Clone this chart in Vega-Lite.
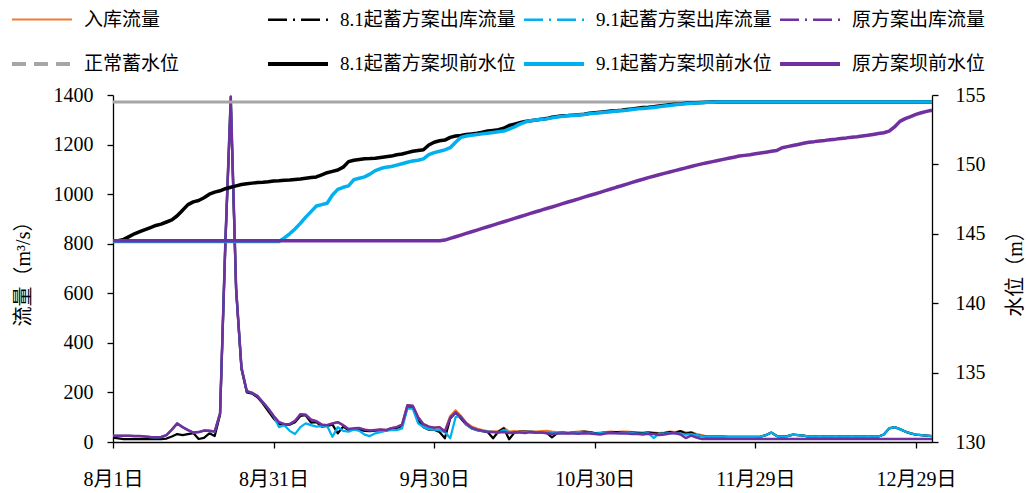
{
"$schema": "https://vega.github.io/schema/vega-lite/v6.json",
"width": 819, "height": 347,
"autosize": {"type": "none"},
"padding": {"left": 113, "top": 95, "right": 94, "bottom": 51},
"background": "white",
"config": {
  "view": {"stroke": null},
  "font": "Liberation Serif, Noto Sans CJK SC",
  "axis": {"grid": false, "domainColor": "#000", "tickColor": "#000", "labelColor": "#000", "titleColor": "#000",
           "labelFont": "Liberation Serif, Noto Sans CJK SC", "titleFont": "Liberation Serif, Noto Sans CJK SC",
           "labelFontSize": 20, "titleFontSize": 20, "titleFontWeight": "normal", "tickSize": 6,
           "domainWidth": 1.3, "tickWidth": 1.3, "labelFlush": false, "labelOverlap": false}
},
"data": {"values": [
{"d":"2021-08-01","I":25,"B":18,"C":25,"P":25,"LB":144.5,"LC":144.45,"LP":144.5,"N":154.5},
{"d":"2021-08-02","I":25,"B":15,"C":25,"P":25,"LB":144.5,"LC":144.45,"LP":144.5},
{"d":"2021-08-03","I":25,"B":12,"C":25,"P":25,"LB":144.6,"LC":144.45,"LP":144.5},
{"d":"2021-08-04","I":25,"B":12,"C":25,"P":25,"LB":144.8,"LC":144.45,"LP":144.5},
{"d":"2021-08-05","I":24,"B":12,"C":24,"P":24,"LB":145.0,"LC":144.45,"LP":144.5},
{"d":"2021-08-06","I":24,"B":12,"C":24,"P":24,"LB":145.15,"LC":144.45,"LP":144.5},
{"d":"2021-08-07","I":22,"B":12,"C":22,"P":22,"LB":145.3,"LC":144.45,"LP":144.5},
{"d":"2021-08-08","I":20,"B":12,"C":20,"P":20,"LB":145.45,"LC":144.45,"LP":144.5},
{"d":"2021-08-09","I":19,"B":12,"C":19,"P":19,"LB":145.6,"LC":144.45,"LP":144.5},
{"d":"2021-08-10","I":20,"B":12,"C":20,"P":20,"LB":145.7,"LC":144.45,"LP":144.5},
{"d":"2021-08-11","I":28,"B":14,"C":28,"P":28,"LB":145.85,"LC":144.45,"LP":144.5},
{"d":"2021-08-12","I":50,"B":22,"C":50,"P":50,"LB":146.0,"LC":144.45,"LP":144.5},
{"d":"2021-08-13","I":75,"B":32,"C":75,"P":75,"LB":146.3,"LC":144.45,"LP":144.5},
{"d":"2021-08-14","I":60,"B":28,"C":60,"P":60,"LB":146.7,"LC":144.45,"LP":144.5},
{"d":"2021-08-15","I":48,"B":32,"C":48,"P":48,"LB":147.1,"LC":144.45,"LP":144.5},
{"d":"2021-08-16","I":38,"B":36,"C":38,"P":38,"LB":147.3,"LC":144.45,"LP":144.5},
{"d":"2021-08-17","I":40,"B":12,"C":40,"P":40,"LB":147.4,"LC":144.45,"LP":144.5},
{"d":"2021-08-18","I":46,"B":17,"C":46,"P":46,"LB":147.6,"LC":144.45,"LP":144.5},
{"d":"2021-08-19","I":45,"B":35,"C":45,"P":45,"LB":147.85,"LC":144.45,"LP":144.5},
{"d":"2021-08-20","I":42,"B":24,"C":42,"P":42,"LB":148.0,"LC":144.45,"LP":144.5},
{"d":"2021-08-21","I":116,"B":110,"C":116,"P":116,"LB":148.1,"LC":144.45,"LP":144.5},
{"d":"2021-08-22","I":815,"B":800,"C":815,"P":815,"LB":148.25,"LC":144.45,"LP":144.5},
{"d":"2021-08-23","I":1393,"B":1370,"C":1393,"P":1393,"LB":148.35,"LC":144.45,"LP":144.5},
{"d":"2021-08-24","I":620,"B":610,"C":620,"P":620,"LB":148.45,"LC":144.45,"LP":144.5},
{"d":"2021-08-25","I":300,"B":295,"C":300,"P":300,"LB":148.55,"LC":144.45,"LP":144.5},
{"d":"2021-08-26","I":205,"B":200,"C":205,"P":205,"LB":148.6,"LC":144.45,"LP":144.5},
{"d":"2021-08-27","I":198,"B":195,"C":198,"P":198,"LB":148.65,"LC":144.45,"LP":144.5},
{"d":"2021-08-28","I":185,"B":180,"C":185,"P":185,"LB":148.7,"LC":144.45,"LP":144.5},
{"d":"2021-08-29","I":160,"B":155,"C":160,"P":160,"LB":148.72,"LC":144.45,"LP":144.5},
{"d":"2021-08-30","I":135,"B":125,"C":135,"P":135,"LB":148.75,"LC":144.45,"LP":144.5},
{"d":"2021-08-31","I":105,"B":95,"C":105,"P":105,"LB":148.8,"LC":144.45,"LP":144.5},
{"d":"2021-09-01","I":80,"B":72,"C":60,"P":80,"LB":148.82,"LC":144.45,"LP":144.5},
{"d":"2021-09-02","I":72,"B":70,"C":68,"P":72,"LB":148.85,"LC":144.7,"LP":144.5},
{"d":"2021-09-03","I":72,"B":70,"C":45,"P":72,"LB":148.88,"LC":145.0,"LP":144.5},
{"d":"2021-09-04","I":85,"B":80,"C":32,"P":85,"LB":148.92,"LC":145.35,"LP":144.5},
{"d":"2021-09-05","I":112,"B":105,"C":60,"P":112,"LB":148.95,"LC":145.75,"LP":144.5},
{"d":"2021-09-06","I":110,"B":108,"C":75,"P":110,"LB":149.0,"LC":146.2,"LP":144.5},
{"d":"2021-09-07","I":90,"B":78,"C":68,"P":90,"LB":149.05,"LC":146.6,"LP":144.5},
{"d":"2021-09-08","I":84,"B":80,"C":62,"P":84,"LB":149.1,"LC":147.0,"LP":144.5},
{"d":"2021-09-09","I":70,"B":62,"C":64,"P":70,"LB":149.25,"LC":147.1,"LP":144.5},
{"d":"2021-09-10","I":68,"B":65,"C":65,"P":68,"LB":149.4,"LC":147.2,"LP":144.5},
{"d":"2021-09-11","I":75,"B":70,"C":21,"P":75,"LB":149.5,"LC":147.8,"LP":144.5},
{"d":"2021-09-12","I":80,"B":35,"C":60,"P":80,"LB":149.6,"LC":148.2,"LP":144.5},
{"d":"2021-09-13","I":68,"B":62,"C":45,"P":68,"LB":149.8,"LC":148.35,"LP":144.5},
{"d":"2021-09-14","I":52,"B":48,"C":42,"P":52,"LB":150.2,"LC":148.45,"LP":144.5},
{"d":"2021-09-15","I":55,"B":52,"C":51,"P":55,"LB":150.3,"LC":148.9,"LP":144.5},
{"d":"2021-09-16","I":56,"B":50,"C":45,"P":56,"LB":150.35,"LC":149.0,"LP":144.5},
{"d":"2021-09-17","I":50,"B":45,"C":30,"P":50,"LB":150.4,"LC":149.1,"LP":144.5},
{"d":"2021-09-18","I":46,"B":44,"C":24,"P":46,"LB":150.42,"LC":149.3,"LP":144.5},
{"d":"2021-09-19","I":48,"B":46,"C":35,"P":48,"LB":150.45,"LC":149.55,"LP":144.5},
{"d":"2021-09-20","I":50,"B":48,"C":40,"P":50,"LB":150.5,"LC":149.7,"LP":144.5},
{"d":"2021-09-21","I":48,"B":46,"C":46,"P":48,"LB":150.55,"LC":149.8,"LP":144.5},
{"d":"2021-09-22","I":56,"B":52,"C":48,"P":56,"LB":150.6,"LC":149.85,"LP":144.5},
{"d":"2021-09-23","I":60,"B":56,"C":48,"P":60,"LB":150.7,"LC":149.95,"LP":144.5},
{"d":"2021-09-24","I":70,"B":65,"C":55,"P":70,"LB":150.75,"LC":150.05,"LP":144.5},
{"d":"2021-09-25","I":148,"B":140,"C":136,"P":148,"LB":150.85,"LC":150.15,"LP":144.5},
{"d":"2021-09-26","I":146,"B":140,"C":135,"P":146,"LB":150.95,"LC":150.25,"LP":144.5},
{"d":"2021-09-27","I":100,"B":85,"C":75,"P":100,"LB":151.0,"LC":150.3,"LP":144.5},
{"d":"2021-09-28","I":72,"B":60,"C":60,"P":72,"LB":151.05,"LC":150.4,"LP":144.5},
{"d":"2021-09-29","I":62,"B":50,"C":52,"P":62,"LB":151.4,"LC":150.7,"LP":144.5},
{"d":"2021-09-30","I":58,"B":50,"C":50,"P":58,"LB":151.6,"LC":150.85,"LP":144.5},
{"d":"2021-10-01","I":60,"B":40,"C":48,"P":60,"LB":151.7,"LC":150.95,"LP":144.5},
{"d":"2021-10-02","I":45,"B":15,"C":40,"P":42,"LB":151.75,"LC":151.05,"LP":144.55},
{"d":"2021-10-03","I":105,"B":95,"C":15,"P":98,"LB":151.95,"LC":151.2,"LP":144.67},
{"d":"2021-10-04","I":128,"B":118,"C":100,"P":120,"LB":152.05,"LC":151.6,"LP":144.79},
{"d":"2021-10-05","I":105,"B":95,"C":105,"P":100,"LB":152.08,"LC":151.95,"LP":144.91},
{"d":"2021-10-06","I":78,"B":70,"C":70,"P":75,"LB":152.15,"LC":152.05,"LP":145.03},
{"d":"2021-10-07","I":62,"B":55,"C":56,"P":58,"LB":152.2,"LC":152.1,"LP":145.15},
{"d":"2021-10-08","I":54,"B":48,"C":48,"P":50,"LB":152.25,"LC":152.15,"LP":145.27},
{"d":"2021-10-09","I":48,"B":44,"C":44,"P":45,"LB":152.32,"LC":152.2,"LP":145.39},
{"d":"2021-10-10","I":44,"B":40,"C":42,"P":40,"LB":152.4,"LC":152.25,"LP":145.51},
{"d":"2021-10-11","I":42,"B":15,"C":40,"P":40,"LB":152.45,"LC":152.3,"LP":145.63},
{"d":"2021-10-12","I":44,"B":42,"C":38,"P":38,"LB":152.5,"LC":152.35,"LP":145.75},
{"d":"2021-10-13","I":58,"B":55,"C":48,"P":40,"LB":152.6,"LC":152.4,"LP":145.87},
{"d":"2021-10-14","I":42,"B":11,"C":40,"P":36,"LB":152.8,"LC":152.55,"LP":145.99},
{"d":"2021-10-15","I":44,"B":38,"C":38,"P":38,"LB":152.9,"LC":152.7,"LP":146.11},
{"d":"2021-10-16","I":42,"B":42,"C":40,"P":38,"LB":153.0,"LC":152.9,"LP":146.23},
{"d":"2021-10-17","I":43,"B":42,"C":40,"P":36,"LB":153.1,"LC":153.05,"LP":146.35},
{"d":"2021-10-18","I":44,"B":40,"C":42,"P":40,"LB":153.15,"LC":153.15,"LP":146.47},
{"d":"2021-10-19","I":42,"B":38,"C":40,"P":38,"LB":153.2,"LC":153.2,"LP":146.59},
{"d":"2021-10-20","I":44,"B":40,"C":40,"P":38,"LB":153.25,"LC":153.25,"LP":146.7},
{"d":"2021-10-21","I":45,"B":38,"C":40,"P":35,"LB":153.3,"LC":153.28,"LP":146.82},
{"d":"2021-10-22","I":42,"B":19,"C":38,"P":32,"LB":153.4,"LC":153.35,"LP":146.93},
{"d":"2021-10-23","I":40,"B":36,"C":36,"P":34,"LB":153.45,"LC":153.42,"LP":147.05},
{"d":"2021-10-24","I":40,"B":38,"C":38,"P":34,"LB":153.5,"LC":153.47,"LP":147.17},
{"d":"2021-10-25","I":38,"B":36,"C":36,"P":35,"LB":153.52,"LC":153.5,"LP":147.29},
{"d":"2021-10-26","I":40,"B":38,"C":38,"P":34,"LB":153.55,"LC":153.53,"LP":147.4},
{"d":"2021-10-27","I":42,"B":40,"C":40,"P":33,"LB":153.58,"LC":153.56,"LP":147.52},
{"d":"2021-10-28","I":42,"B":42,"C":38,"P":35,"LB":153.62,"LC":153.6,"LP":147.64},
{"d":"2021-10-29","I":40,"B":40,"C":38,"P":34,"LB":153.68,"LC":153.65,"LP":147.76},
{"d":"2021-10-30","I":36,"B":36,"C":34,"P":32,"LB":153.72,"LC":153.68,"LP":147.87},
{"d":"2021-10-31","I":38,"B":36,"C":36,"P":30,"LB":153.76,"LC":153.72,"LP":147.99},
{"d":"2021-11-01","I":40,"B":38,"C":38,"P":34,"LB":153.8,"LC":153.76,"LP":148.11},
{"d":"2021-11-02","I":42,"B":40,"C":38,"P":36,"LB":153.84,"LC":153.8,"LP":148.23},
{"d":"2021-11-03","I":40,"B":40,"C":36,"P":35,"LB":153.87,"LC":153.84,"LP":148.35},
{"d":"2021-11-04","I":42,"B":38,"C":36,"P":34,"LB":153.9,"LC":153.87,"LP":148.46},
{"d":"2021-11-05","I":42,"B":38,"C":38,"P":34,"LB":153.95,"LC":153.9,"LP":148.58},
{"d":"2021-11-06","I":40,"B":38,"C":36,"P":32,"LB":154.0,"LC":153.95,"LP":148.7},
{"d":"2021-11-07","I":40,"B":36,"C":34,"P":32,"LB":154.05,"LC":154.0,"LP":148.82},
{"d":"2021-11-08","I":38,"B":36,"C":34,"P":30,"LB":154.1,"LC":154.03,"LP":148.93},
{"d":"2021-11-09","I":40,"B":38,"C":36,"P":33,"LB":154.12,"LC":154.06,"LP":149.05},
{"d":"2021-11-10","I":38,"B":36,"C":16,"P":32,"LB":154.15,"LC":154.1,"LP":149.15},
{"d":"2021-11-11","I":36,"B":34,"C":34,"P":28,"LB":154.2,"LC":154.15,"LP":149.25},
{"d":"2021-11-12","I":38,"B":36,"C":34,"P":30,"LB":154.25,"LC":154.2,"LP":149.35},
{"d":"2021-11-13","I":42,"B":40,"C":36,"P":34,"LB":154.3,"LC":154.25,"LP":149.45},
{"d":"2021-11-14","I":40,"B":36,"C":36,"P":36,"LB":154.33,"LC":154.3,"LP":149.55},
{"d":"2021-11-15","I":44,"B":44,"C":34,"P":30,"LB":154.36,"LC":154.33,"LP":149.65},
{"d":"2021-11-16","I":38,"B":34,"C":30,"P":16,"LB":154.4,"LC":154.37,"LP":149.75},
{"d":"2021-11-17","I":40,"B":38,"C":32,"P":26,"LB":154.42,"LC":154.4,"LP":149.85},
{"d":"2021-11-18","I":32,"B":28,"C":28,"P":18,"LB":154.44,"LC":154.43,"LP":149.95},
{"d":"2021-11-19","I":28,"B":24,"C":24,"P":12,"LB":154.46,"LC":154.45,"LP":150.04},
{"d":"2021-11-20","I":22,"B":22,"C":22,"P":12,"LB":154.48,"LC":154.47,"LP":150.12},
{"d":"2021-11-21","I":22,"B":22,"C":22,"P":12,"LB":154.49,"LC":154.48,"LP":150.2},
{"d":"2021-11-22","I":22,"B":22,"C":22,"P":12,"LB":154.5,"LC":154.49,"LP":150.28},
{"d":"2021-11-23","I":22,"B":22,"C":22,"P":12,"LB":154.5,"LC":154.5,"LP":150.36},
{"d":"2021-11-24","I":21,"B":21,"C":21,"P":12,"LB":154.5,"LC":154.5,"LP":150.44},
{"d":"2021-11-25","I":21,"B":21,"C":21,"P":12,"LB":154.5,"LC":154.5,"LP":150.52},
{"d":"2021-11-26","I":21,"B":21,"C":21,"P":12,"LB":154.5,"LC":154.5,"LP":150.6},
{"d":"2021-11-27","I":21,"B":21,"C":21,"P":12,"LB":154.5,"LC":154.5,"LP":150.65},
{"d":"2021-11-28","I":21,"B":21,"C":21,"P":12,"LB":154.5,"LC":154.5,"LP":150.7},
{"d":"2021-11-29","I":21,"B":21,"C":21,"P":12,"LB":154.5,"LC":154.5,"LP":150.76},
{"d":"2021-11-30","I":22,"B":22,"C":22,"P":12,"LB":154.5,"LC":154.5,"LP":150.82},
{"d":"2021-12-01","I":28,"B":28,"C":28,"P":12,"LB":154.5,"LC":154.5,"LP":150.88},
{"d":"2021-12-02","I":38,"B":38,"C":38,"P":12,"LB":154.5,"LC":154.5,"LP":150.94},
{"d":"2021-12-03","I":24,"B":24,"C":24,"P":12,"LB":154.5,"LC":154.5,"LP":151.0},
{"d":"2021-12-04","I":22,"B":22,"C":22,"P":12,"LB":154.5,"LC":154.5,"LP":151.2},
{"d":"2021-12-05","I":24,"B":24,"C":24,"P":12,"LB":154.5,"LC":154.5,"LP":151.28},
{"d":"2021-12-06","I":30,"B":30,"C":30,"P":12,"LB":154.5,"LC":154.5,"LP":151.36},
{"d":"2021-12-07","I":28,"B":28,"C":28,"P":12,"LB":154.5,"LC":154.5,"LP":151.44},
{"d":"2021-12-08","I":26,"B":26,"C":26,"P":12,"LB":154.5,"LC":154.5,"LP":151.52},
{"d":"2021-12-09","I":22,"B":22,"C":22,"P":12,"LB":154.5,"LC":154.5,"LP":151.6},
{"d":"2021-12-10","I":22,"B":22,"C":22,"P":12,"LB":154.5,"LC":154.5,"LP":151.64},
{"d":"2021-12-11","I":24,"B":24,"C":24,"P":12,"LB":154.5,"LC":154.5,"LP":151.69},
{"d":"2021-12-12","I":22,"B":22,"C":22,"P":12,"LB":154.5,"LC":154.5,"LP":151.73},
{"d":"2021-12-13","I":22,"B":22,"C":22,"P":12,"LB":154.5,"LC":154.5,"LP":151.78},
{"d":"2021-12-14","I":24,"B":24,"C":24,"P":12,"LB":154.5,"LC":154.5,"LP":151.82},
{"d":"2021-12-15","I":22,"B":22,"C":22,"P":12,"LB":154.5,"LC":154.5,"LP":151.87},
{"d":"2021-12-16","I":22,"B":22,"C":22,"P":12,"LB":154.5,"LC":154.5,"LP":151.91},
{"d":"2021-12-17","I":24,"B":24,"C":24,"P":12,"LB":154.5,"LC":154.5,"LP":151.96},
{"d":"2021-12-18","I":22,"B":22,"C":22,"P":12,"LB":154.5,"LC":154.5,"LP":152.0},
{"d":"2021-12-19","I":22,"B":22,"C":22,"P":12,"LB":154.5,"LC":154.5,"LP":152.05},
{"d":"2021-12-20","I":24,"B":24,"C":24,"P":12,"LB":154.5,"LC":154.5,"LP":152.1},
{"d":"2021-12-21","I":22,"B":22,"C":22,"P":12,"LB":154.5,"LC":154.5,"LP":152.16},
{"d":"2021-12-22","I":22,"B":22,"C":22,"P":12,"LB":154.5,"LC":154.5,"LP":152.22},
{"d":"2021-12-23","I":30,"B":30,"C":30,"P":12,"LB":154.5,"LC":154.5,"LP":152.28},
{"d":"2021-12-24","I":55,"B":55,"C":55,"P":12,"LB":154.5,"LC":154.5,"LP":152.4},
{"d":"2021-12-25","I":60,"B":60,"C":60,"P":12,"LB":154.5,"LC":154.5,"LP":152.7},
{"d":"2021-12-26","I":52,"B":52,"C":52,"P":12,"LB":154.5,"LC":154.5,"LP":153.1},
{"d":"2021-12-27","I":42,"B":42,"C":42,"P":12,"LB":154.5,"LC":154.5,"LP":153.3},
{"d":"2021-12-28","I":35,"B":35,"C":35,"P":12,"LB":154.5,"LC":154.5,"LP":153.45},
{"d":"2021-12-29","I":30,"B":30,"C":30,"P":12,"LB":154.5,"LC":154.5,"LP":153.6},
{"d":"2021-12-30","I":28,"B":28,"C":28,"P":12,"LB":154.5,"LC":154.5,"LP":153.72},
{"d":"2021-12-31","I":26,"B":26,"C":26,"P":12,"LB":154.5,"LC":154.5,"LP":153.82},
{"d":"2022-01-01","I":24,"B":24,"C":24,"P":12,"LB":154.5,"LC":154.5,"LP":153.9,"N":154.5}
]},
"encoding": {
  "x": {"field": "d", "type": "temporal",
        "scale": {"type": "utc", "domain": [{"year":2021,"month":8,"date":1,"utc":true},{"year":2022,"month":1,"date":1,"utc":true}]},
        "axis": {"title": null, "format": "%-m月%-d日", "labelPadding": 21,
                 "values": [{"year":2021,"month":8,"date":1,"utc":true},{"year":2021,"month":8,"date":31,"utc":true},{"year":2021,"month":9,"date":30,"utc":true},{"year":2021,"month":10,"date":30,"utc":true},{"year":2021,"month":11,"date":29,"utc":true},{"year":2021,"month":12,"date":29,"utc":true}]}}
},
"layer": [
  {
    "transform": [{"fold": ["I","B","C","P"], "as": ["k","v"]}, {"filter": "isValid(datum.v)"}],
    "encoding": {"y": {"field": "v", "type": "quantitative", "scale": {"domain": [0,1400]},
       "axis": {"title": "流量（m³/s）", "format": "d", "values": [0,200,400,600,800,1000,1200,1400], "labelPadding": 14, "titlePadding": 20}}},
    "layer": [
      {"transform": [{"filter": "datum.k==='I'"}], "mark": {"type": "line", "strokeWidth": 2.25, "strokeJoin": "round"},
       "encoding": {"color": {"field": "k", "type": "nominal",
         "scale": {"domain": ["I","B","C","P","N","LB","LC","LP"], "range": ["#ED7D31","#000000","#00B0F0","#7030A0","#A6A6A6","#000000","#00B0F0","#7030A0"]},
         "legend": {"title": null, "orient": "none", "legendX": -103, "legendY": -107, "direction": "horizontal", "columns": 4,
                    "gridAlign": "all", "columnPadding": 0, "rowPadding": 2, "symbolType": "stroke", "symbolSize": 3600,
                    "labelFontSize": 19, "labelFont": "Liberation Serif, Noto Sans CJK SC", "labelOffset": 10, "labelColor": "#000",
                    "labelLimit": 400, "padding": 0,
                    "labelExpr": "datum.value==='I' ? '入库流量' : datum.value==='B' ? '8.1起蓄方案出库流量' : datum.value==='C' ? '9.1起蓄方案出库流量' : datum.value==='P' ? '原方案出库流量' : datum.value==='N' ? '正常蓄水位' : datum.value==='LB' ? '8.1起蓄方案坝前水位' : datum.value==='LC' ? '9.1起蓄方案坝前水位' : '原方案坝前水位'"}}}},
      {"transform": [{"filter": "datum.k==='B'"}], "mark": {"type": "line", "strokeWidth": 2.25, "strokeJoin": "round"},
       "encoding": {"color": {"field": "k", "type": "nominal",
         "scale": {"domain": ["I","B","C","P","N","LB","LC","LP"], "range": ["#ED7D31","#000000","#00B0F0","#7030A0","#A6A6A6","#000000","#00B0F0","#7030A0"]}}}},
      {"transform": [{"filter": "datum.k==='C'"}], "mark": {"type": "line", "strokeWidth": 2.25, "strokeJoin": "round"},
       "encoding": {"color": {"field": "k", "type": "nominal",
         "scale": {"domain": ["I","B","C","P","N","LB","LC","LP"], "range": ["#ED7D31","#000000","#00B0F0","#7030A0","#A6A6A6","#000000","#00B0F0","#7030A0"]}}}},
      {"transform": [{"filter": "datum.k==='P'"}], "mark": {"type": "line", "strokeWidth": 2.5, "strokeJoin": "round"},
       "encoding": {"color": {"field": "k", "type": "nominal",
         "scale": {"domain": ["I","B","C","P","N","LB","LC","LP"], "range": ["#ED7D31","#000000","#00B0F0","#7030A0","#A6A6A6","#000000","#00B0F0","#7030A0"]}}}},
      {"transform": [{"filter": "false"}], "mark": {"type": "line"},
       "encoding": {"color": {"field": "k", "type": "nominal",
         "scale": {"domain": ["I","B","C","P","N","LB","LC","LP"], "range": ["#ED7D31","#000000","#00B0F0","#7030A0","#A6A6A6","#000000","#00B0F0","#7030A0"]}},
         "strokeDash": {"field": "k", "type": "nominal",
         "scale": {"domain": ["I","B","C","P","N","LB","LC","LP"], "range": [[1,0],[19,6,2,6],[19,6,2,6],[19,6,2,6],[14,8],[1,0],[1,0],[1,0]]},
         "legend": {"title": null, "orient": "none", "legendX": -103, "legendY": -107, "direction": "horizontal", "columns": 4,
                    "gridAlign": "all", "columnPadding": 0, "rowPadding": 2, "symbolType": "stroke", "symbolSize": 3600,
                    "labelFontSize": 19, "labelFont": "Liberation Serif, Noto Sans CJK SC", "labelOffset": 10, "labelColor": "#000",
                    "labelLimit": 400, "padding": 0,
                    "labelExpr": "datum.value==='I' ? '入库流量' : datum.value==='B' ? '8.1起蓄方案出库流量' : datum.value==='C' ? '9.1起蓄方案出库流量' : datum.value==='P' ? '原方案出库流量' : datum.value==='N' ? '正常蓄水位' : datum.value==='LB' ? '8.1起蓄方案坝前水位' : datum.value==='LC' ? '9.1起蓄方案坝前水位' : '原方案坝前水位'"}},
         "strokeWidth": {"field": "k", "type": "ordinal",
         "scale": {"type": "ordinal", "domain": ["I","B","C","P","N","LB","LC","LP"], "range": [2,2.5,2.5,2.5,4,4,4,4]},
         "legend": {"title": null, "orient": "none", "legendX": -103, "legendY": -107, "direction": "horizontal", "columns": 4,
                    "gridAlign": "all", "columnPadding": 0, "rowPadding": 2, "symbolType": "stroke", "symbolSize": 3600,
                    "labelFontSize": 19, "labelFont": "Liberation Serif, Noto Sans CJK SC", "labelOffset": 10, "labelColor": "#000",
                    "labelLimit": 400, "padding": 0,
                    "labelExpr": "datum.value==='I' ? '入库流量' : datum.value==='B' ? '8.1起蓄方案出库流量' : datum.value==='C' ? '9.1起蓄方案出库流量' : datum.value==='P' ? '原方案出库流量' : datum.value==='N' ? '正常蓄水位' : datum.value==='LB' ? '8.1起蓄方案坝前水位' : datum.value==='LC' ? '9.1起蓄方案坝前水位' : '原方案坝前水位'"}}}}
    ]
  },
  {
    "transform": [{"fold": ["N","LB","LC","LP"], "as": ["k","v"]}, {"filter": "isValid(datum.v)"}],
    "encoding": {"y": {"field": "v", "type": "quantitative", "scale": {"domain": [130,155]},
       "axis": {"orient": "right", "title": "水位（m）", "values": [130,135,140,145,150,155], "labelPadding": 17,
                "titlePadding": 20, "titleAngle": 270, "titleBaseline": "top"}}},
    "layer": [
      {"transform": [{"filter": "datum.k==='N'"}], "mark": {"type": "line", "strokeWidth": 3, "strokeJoin": "round"},
       "encoding": {"color": {"field": "k", "type": "nominal",
         "scale": {"domain": ["I","B","C","P","N","LB","LC","LP"], "range": ["#ED7D31","#000000","#00B0F0","#7030A0","#A6A6A6","#000000","#00B0F0","#7030A0"]}}}},
      {"transform": [{"filter": "datum.k==='LB'"}], "mark": {"type": "line", "strokeWidth": 3.5, "strokeJoin": "round"},
       "encoding": {"color": {"field": "k", "type": "nominal",
         "scale": {"domain": ["I","B","C","P","N","LB","LC","LP"], "range": ["#ED7D31","#000000","#00B0F0","#7030A0","#A6A6A6","#000000","#00B0F0","#7030A0"]}}}},
      {"transform": [{"filter": "datum.k==='LC'"}], "mark": {"type": "line", "strokeWidth": 3.5, "strokeJoin": "round"},
       "encoding": {"color": {"field": "k", "type": "nominal",
         "scale": {"domain": ["I","B","C","P","N","LB","LC","LP"], "range": ["#ED7D31","#000000","#00B0F0","#7030A0","#A6A6A6","#000000","#00B0F0","#7030A0"]}}}},
      {"transform": [{"filter": "datum.k==='LP'"}], "mark": {"type": "line", "strokeWidth": 3.5, "strokeJoin": "round"},
       "encoding": {"color": {"field": "k", "type": "nominal",
         "scale": {"domain": ["I","B","C","P","N","LB","LC","LP"], "range": ["#ED7D31","#000000","#00B0F0","#7030A0","#A6A6A6","#000000","#00B0F0","#7030A0"]}}}}
    ]
  }
],
"resolve": {"scale": {"y": "independent"}}
}
